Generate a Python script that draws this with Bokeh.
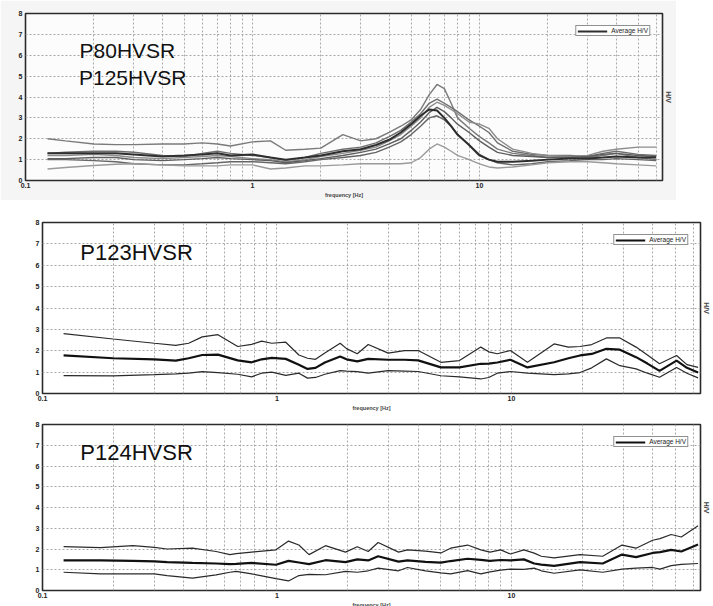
from bokeh.plotting import figure
from bokeh.models import FixedTicker, LinearAxis, Label, Spacer
from bokeh.layouts import column, row
from bokeh.embed import file_html
from bokeh.resources import INLINE

# ---------------- data ----------------
X_TICKS = [0.1, 1, 10]
X_TICK_LABELS = ["0.1", "1", "10"]
X_MINOR = [0.2, 0.3, 0.4, 0.5, 0.6, 0.7, 0.8, 0.9,
           2, 3, 4, 5, 6, 7, 8, 9, 20, 30, 40, 50, 60]
Y_TICKS = [0, 1, 2, 3, 4, 5, 6, 7, 8]

# Panel 1: P80HVSR / P125HVSR (several individual H/V curves)
p1_freq = [0.125, 0.15, 0.2, 0.25, 0.3, 0.4, 0.5, 0.6, 0.7, 0.8, 1.0, 1.2, 1.4, 1.7, 2.0,
           2.5, 3.0, 3.5, 4.0, 4.5, 5.0, 5.5, 6.0, 6.5, 7.0, 7.5, 8.0, 9.0, 10, 11, 12,
           14, 17, 20, 25, 30, 35, 40, 50, 60]
p1_a = [2.0, 1.9, 1.75, 1.72, 1.72, 1.75, 1.75, 1.8, 1.75, 1.65, 1.85, 1.9, 1.45, 1.5, 1.55,
        2.2, 1.9, 2.0, 2.3, 2.6, 2.9, 3.4, 4.1, 4.6, 4.4, 3.7, 3.0, 2.5, 2.1, 1.8, 1.5,
        1.3, 1.2, 1.1, 1.15, 1.1, 1.2, 1.3, 1.1, 1.0]
p1_b = [1.3, 1.3, 1.3, 1.3, 1.25, 1.15, 1.2, 1.25, 1.3, 1.2, 1.25, 1.1, 1.0, 1.1, 1.2,
        1.4, 1.5, 1.7, 1.95, 2.3, 2.7, 3.1, 3.4, 3.35, 3.0, 2.6, 2.2, 1.7, 1.2, 1.0, 0.9,
        0.9, 0.95, 1.0, 1.05, 1.05, 1.1, 1.15, 1.1, 1.1]
p1_c = [1.3, 1.35, 1.4, 1.4, 1.35, 1.2, 1.15, 1.3, 1.4, 1.3, 1.2, 1.1, 0.95, 1.1, 1.3,
        1.5, 1.6, 1.8, 2.1, 2.4, 2.8, 3.2, 3.7, 3.9, 3.7, 3.5, 3.3, 2.9, 2.6, 2.3, 1.8,
        1.4, 1.25, 1.2, 1.2, 1.15, 1.3, 1.4, 1.25, 1.2]
p1_d = [1.2, 1.2, 1.25, 1.2, 1.1, 1.05, 1.1, 1.15, 1.2, 1.15, 1.05, 1.0, 0.9, 1.0, 1.15,
        1.3, 1.45, 1.6, 1.9, 2.2, 2.6, 3.0, 3.5, 3.75, 3.6, 3.4, 3.2, 2.8, 2.7, 2.5, 2.0,
        1.5, 1.3, 1.2, 1.15, 1.2, 1.4, 1.5, 1.6, 1.6]
p1_e = [1.05, 1.05, 1.1, 1.1, 1.0, 0.95, 1.0, 1.05, 1.1, 1.05, 1.0, 0.95, 0.85, 0.95, 1.05,
        1.2, 1.35, 1.5, 1.75, 2.0, 2.4, 2.8, 3.25, 3.5, 3.3, 3.0, 2.7, 2.3, 1.9, 1.6, 1.35,
        1.2, 1.15, 1.1, 1.1, 1.15, 1.25, 1.3, 1.2, 1.15]
p1_f = [1.0, 1.0, 0.95, 0.9, 0.8, 0.75, 0.75, 0.8, 0.85, 0.9, 0.9, 0.85, 0.8, 0.9, 1.0,
        1.1, 1.2, 1.35, 1.6, 1.85, 2.2, 2.6, 3.0, 3.1, 2.9, 2.6, 2.2, 1.7, 1.25, 1.0, 0.85,
        0.75, 0.8, 0.9, 0.95, 1.0, 1.0, 1.05, 1.0, 0.95]
p1_g = [0.55, 0.62, 0.72, 0.78, 0.8, 0.75, 0.7, 0.7, 0.7, 0.75, 0.75, 0.55, 0.6, 0.7, 0.7,
        0.75, 0.8, 0.8, 0.8, 0.8, 0.85, 1.1, 1.5, 1.75, 1.6, 1.4, 1.2, 1.0, 0.8, 0.65, 0.6,
        0.65, 0.75, 0.85, 0.9, 0.9, 0.85, 0.8, 0.75, 0.7]
p1_series = [p1_a, p1_c, p1_d, p1_e, p1_f, p1_g]
p1_avg = p1_b

# Panel 2: P123HVSR (average and +/- std curves)
p2_freq = [0.123, 0.2, 0.3, 0.37, 0.42, 0.48, 0.56, 0.68, 0.78, 0.86, 0.95, 1.09, 1.24, 1.35,
           1.46, 1.6, 1.86, 1.98, 2.2, 2.45, 2.98, 3.5, 4.0, 5.0, 6.0, 7.4, 8.0, 8.7, 9.9,
           11.7, 15.2, 17.5, 19.6, 22, 25.4, 29, 34, 38, 42.8, 50.6, 56, 62.5]
p2_upper = [2.8, 2.55, 2.35, 2.25, 2.35, 2.65, 2.75, 2.2, 2.3, 2.45, 2.35, 2.4, 1.8, 1.65,
            1.6, 1.9, 2.35, 2.1, 1.86, 2.29, 1.89, 2.01, 2.01, 1.46, 1.54, 2.17, 1.95, 1.86, 2.01,
            1.46, 2.32, 2.17, 2.2, 2.29, 2.6, 2.6, 2.17, 1.8, 1.39, 1.78, 1.35, 1.22]
p2_avg = [1.78, 1.65, 1.6, 1.54, 1.65, 1.8, 1.82, 1.55, 1.46, 1.6, 1.67, 1.62, 1.35, 1.15,
          1.2, 1.45, 1.73, 1.6, 1.5, 1.62, 1.58, 1.58, 1.55, 1.22, 1.22, 1.39, 1.4, 1.45, 1.58,
          1.22, 1.46, 1.65, 1.78, 1.85, 2.09, 2.05, 1.7, 1.4, 1.06, 1.54, 1.2, 0.98]
p2_lower = [0.84, 0.82, 0.88, 0.92, 0.95, 1.02, 0.98, 0.9, 0.78, 0.95, 1.0, 0.85, 0.95, 0.72,
            0.75, 0.9, 1.07, 1.05, 1.02, 0.95, 1.07, 1.05, 1.03, 0.83, 0.78, 0.68, 0.75, 0.95, 1.03,
            0.95, 0.88, 0.92, 0.98, 1.2, 1.62, 1.3, 1.15, 0.95, 0.76, 1.22, 0.95, 0.73]

# Panel 3: P124HVSR
p3_freq = [0.123, 0.177, 0.243, 0.3, 0.34, 0.436, 0.55, 0.63, 0.67, 0.78, 0.99, 1.12, 1.24,
           1.37, 1.61, 1.96, 2.2, 2.45, 2.7, 3.3, 3.6, 4.3, 5.0, 5.5, 6.5, 7.4, 8.1, 9.0, 9.9,
           11.3, 12.5, 13.4, 15.2, 19.6, 24.5, 29.6, 34, 40, 43, 48, 53, 62.5]
p3_upper = [2.11, 2.07, 2.16, 2.08, 2.0, 2.04, 1.88, 1.73, 1.78, 1.85, 1.96, 2.38, 2.19,
            1.73, 2.16, 1.85, 2.11, 1.88, 2.31, 1.85, 1.96, 1.9, 1.81, 2.04, 2.19, 1.96, 1.85,
            1.96, 1.76, 1.96, 1.8, 1.65, 1.57, 1.73, 1.65, 2.19, 2.04, 2.42, 2.5, 2.7, 2.58, 3.12]
p3_avg = [1.45, 1.45, 1.43, 1.4, 1.37, 1.33, 1.3, 1.27, 1.28, 1.33, 1.24, 1.43, 1.35,
          1.27, 1.46, 1.37, 1.5, 1.45, 1.65, 1.39, 1.45, 1.38, 1.34, 1.42, 1.53, 1.48, 1.43,
          1.47, 1.45, 1.5, 1.3, 1.25, 1.19, 1.37, 1.3, 1.73, 1.61, 1.81, 1.85, 1.96, 1.88, 2.22]
p3_lower = [0.88, 0.8, 0.8, 0.8, 0.72, 0.6, 0.75, 0.88, 0.92, 0.8, 0.57, 0.46, 0.72,
            0.78, 0.76, 0.92, 0.88, 0.95, 1.08, 0.95, 1.11, 0.95, 0.85, 0.8, 0.96, 0.8, 0.9,
            0.98, 1.03, 1.02, 1.08, 0.95, 0.83, 0.99, 0.88, 1.03, 1.08, 1.11, 1.03, 1.2, 1.26, 1.3]

TITLES = [["P80HVSR", "P125HVSR"], ["P123HVSR"], ["P124HVSR"]]
LEGEND_LABEL = "Average H/V"
X_LABEL = "frequency [Hz]"
Y_LABEL = "H/V"

FONT = "Liberation Sans"


def make_panel(frame_w, frame_h, mb_left, mb_top, mb_bottom, mb_right, border_fill):
    p = figure(x_axis_type="log", x_range=(0.1, 64), y_range=(0, 8),
               frame_width=frame_w, frame_height=frame_h,
               min_border_left=mb_left, min_border_top=mb_top,
               min_border_bottom=mb_bottom, min_border_right=mb_right,
               output_backend="svg", toolbar_location=None,
               background_fill_color="white", border_fill_color=border_fill)
    p.outline_line_color = "#2b2b2b"
    p.outline_line_width = 1.6

    p.xaxis.ticker = FixedTicker(ticks=X_TICKS, minor_ticks=X_MINOR)
    p.xaxis.major_label_overrides = dict(zip(X_TICKS, X_TICK_LABELS))
    p.yaxis.ticker = FixedTicker(ticks=Y_TICKS)
    for ax in (p.xaxis, p.yaxis):
        ax.axis_line_color = None
        ax.major_tick_line_color = None
        ax.minor_tick_line_color = None
        ax.major_tick_out = 0
        ax.major_tick_in = 0
        ax.minor_tick_out = 0
        ax.minor_tick_in = 0
        ax.major_label_text_font = FONT
        ax.major_label_text_font_size = "7px"
        ax.major_label_text_font_style = "bold"
        ax.major_label_text_color = "#222222"
    p.xaxis.major_label_standoff = 2
    p.yaxis.major_label_standoff = 3
    p.xaxis.axis_label = X_LABEL
    p.xaxis.axis_label_text_font = FONT
    p.xaxis.axis_label_text_font_size = "5.5px"
    p.xaxis.axis_label_text_font_style = "bold"
    p.xaxis.axis_label_standoff = 1

    ra = LinearAxis(ticker=FixedTicker(ticks=[]), axis_label=Y_LABEL,
                    axis_line_color=None, major_tick_line_color=None,
                    minor_tick_line_color=None, major_tick_out=0, major_tick_in=0,
                    minor_tick_out=0, minor_tick_in=0,
                    major_label_text_font_size="0px", major_label_standoff=0,
                    axis_label_text_font=FONT, axis_label_text_font_size="7px",
                    axis_label_text_font_style="bold", axis_label_standoff=2)
    p.add_layout(ra, "right")

    for g in (p.xgrid, p.ygrid):
        g.grid_line_color = "#a8a8a8"
        g.grid_line_dash = "2 2"
        g.grid_line_width = 1
    p.xgrid.minor_grid_line_color = "#a8a8a8"
    p.xgrid.minor_grid_line_dash = "2 2"
    return p


def style_legend(p, margin):
    lg = p.legend[0]
    lg.location = "top_right"
    lg.margin = margin
    lg.padding = 1
    lg.spacing = 0
    lg.label_height = 6
    lg.glyph_height = 6
    lg.glyph_width = 30
    lg.label_standoff = 4
    lg.label_text_font = FONT
    lg.label_text_font_size = "6.5px"
    lg.label_text_color = "#222222"
    lg.border_line_color = "#222222"
    lg.border_line_width = 1.2
    lg.background_fill_color = "white"
    lg.background_fill_alpha = 1


def title_label(x, y, text, size):
    return Label(x=x, y=y, text=text, text_font=FONT, text_font_size=size,
                 text_color="#111111", text_baseline="middle")


# ---------- panel 1 ----------
p1 = make_panel(637, 167, 25, 13, 20, 14, "#f5f5f5")
p1.background_fill_color = "#fcfcfc"
grays = ["#7a7a7a", "#6e6e6e", "#8c8c8c", "#5e5e5e", "#666666", "#9a9a9a"]
for ys, c in zip(p1_series, grays):
    p1.line(p1_freq, ys, line_color=c, line_width=1.4)
p1.line(p1_freq, p1_avg, line_color="#2e2e2e", line_width=2, legend_label=LEGEND_LABEL)
style_legend(p1, 12)
p1.add_layout(title_label(0.173, 6.23, TITLES[0][0], "21px"))
p1.add_layout(title_label(0.172, 4.93, TITLES[0][1], "21px"))

# ---------- panel 2 ----------
p2 = make_panel(658, 171, 25, 22, 17, 10, "white")
p2.line(p2_freq, p2_upper, line_color="#2a2a2a", line_width=1.2)
p2.line(p2_freq, p2_lower, line_color="#2a2a2a", line_width=1.2)
p2.line(p2_freq, p2_avg, line_color="#111111", line_width=2.2, legend_label=LEGEND_LABEL)
style_legend(p2, 12)
p2.add_layout(title_label(0.145, 6.6, TITLES[1][0], "22px"))

# ---------- panel 3 ----------
p3 = make_panel(658, 166, 25, 11, 17, 10, "white")
p3.line(p3_freq, p3_upper, line_color="#2a2a2a", line_width=1.2)
p3.line(p3_freq, p3_lower, line_color="#2a2a2a", line_width=1.2)
p3.line(p3_freq, p3_avg, line_color="#111111", line_width=2.2, legend_label=LEGEND_LABEL)
style_legend(p3, 12)
p3.add_layout(title_label(0.145, 6.65, TITLES[2][0], "22px"))

layout = column(p1,
                row(Spacer(width=17), p2, spacing=0),
                row(Spacer(width=17), p3, spacing=0),
                spacing=0)
open("out.html", "w").write(file_html(layout, INLINE))
